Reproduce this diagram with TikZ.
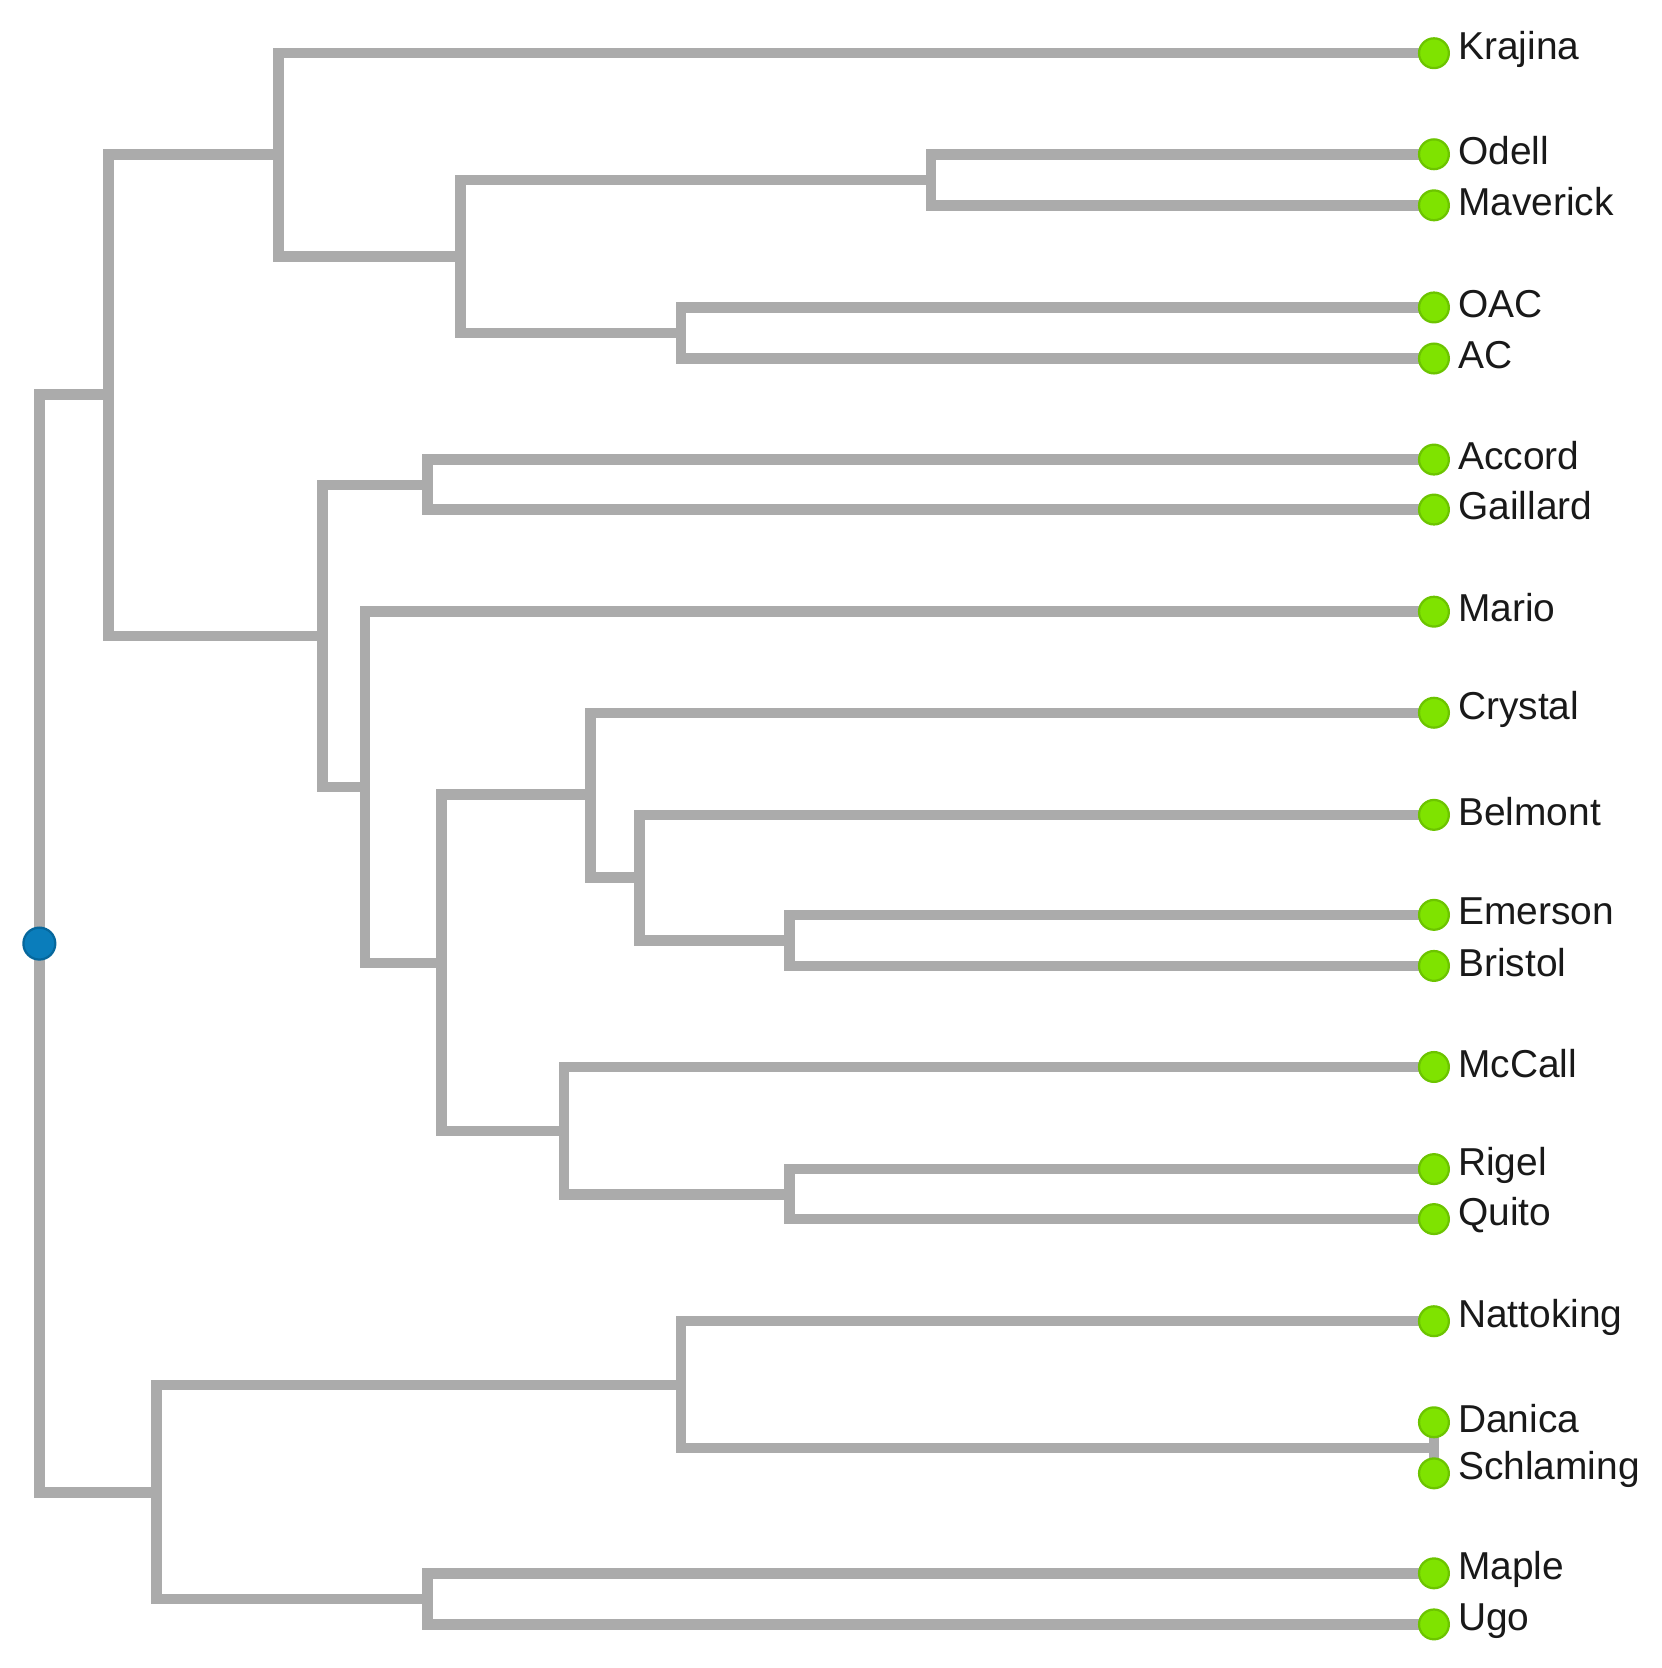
\documentclass[tikz,border=0pt]{standalone}
\usepackage{fontspec}
\setmainfont{Liberation Sans}
\usetikzlibrary{backgrounds}
\definecolor{branchgray}{HTML}{ABABAB}
\definecolor{leafgreen}{HTML}{7FE300}
\definecolor{leafrim}{HTML}{6CC400}
\definecolor{rootblue}{HTML}{0A7DBB}
\definecolor{rootrim}{HTML}{06679C}
\tikzset{
  branch/.style={draw=branchgray, line width=2.8pt},
  leaf/.style={circle, fill=leafgreen, draw=leafrim, line width=0.6pt,
    minimum size=0.28cm, inner sep=0pt},
  rootdot/.style={circle, fill=rootblue, draw=rootrim, line width=0.6pt,
    minimum size=0.3cm, inner sep=0pt},
  every label/.style={font=\fontsize{10.4}{12}\selectfont, inner sep=0pt,
    text=black!90, yshift=1pt}
}
\begin{document}
\begin{tikzpicture}[x=0.01cm, y=-0.01cm]
  \useasboundingbox (0,0) rectangle (1562,1568);

  % leaves
  \foreach \name/\y/\txt in {
      krajina/50/Krajina, odell/145/Odell, maverick/193/Maverick,
      oac/289/OAC, ac/337/AC, accord/432/Accord, gaillard/479/Gaillard,
      mario/575/Mario, crystal/670/Crystal, belmont/766/Belmont,
      emerson/860/Emerson, bristol/908/Bristol, mccall/1003/McCall,
      rigel/1099/Rigel, quito/1146/Quito, nattoking/1242/Nattoking,
      danica/1337/Danica, schlaming/1385/Schlaming, maple/1479/Maple,
      ugo/1527/Ugo}
    \node[leaf, label={[label distance=2pt]right:\txt}] (\name) at (1348,\y) {};

  % root and inner splits
  \node[rootdot] (root) at (37,887) {};
  \coordinate (upper) at (102,371);
  \coordinate (lower) at (147,1403);
  \coordinate (kro)   at (262,145);
  \coordinate (omoa)  at (433,241);
  \coordinate (om)    at (875,169);
  \coordinate (oa)    at (640,313);
  \coordinate (agm)   at (303,598);
  \coordinate (ag)    at (402,456);
  \coordinate (mar)   at (343,740);
  \coordinate (mid)   at (415,905);
  \coordinate (cry)   at (555,747);
  \coordinate (beb)   at (601,825);
  \coordinate (eb)    at (742,884);
  \coordinate (mrq)   at (530,1063);
  \coordinate (rq)    at (742,1123);
  \coordinate (nds)   at (640,1302);
  \coordinate (ds)    at (1348,1361);
  \coordinate (mu)    at (402,1503);

  \begin{scope}[on background layer]
    \foreach \p/\c in {root/upper, root/lower,
        upper/kro, upper/agm, kro/krajina, kro/omoa,
        omoa/om, omoa/oa, om/odell, om/maverick, oa/oac, oa/ac,
        agm/ag, agm/mar, ag/accord, ag/gaillard,
        mar/mario, mar/mid, mid/cry, mid/mrq,
        cry/crystal, cry/beb, beb/belmont, beb/eb, eb/emerson, eb/bristol,
        mrq/mccall, mrq/rq, rq/rigel, rq/quito,
        lower/nds, lower/mu, nds/nattoking, nds/ds,
        ds/danica, ds/schlaming, mu/maple, mu/ugo}
      \draw[branch] (\p.center) |- (\c.center);
  \end{scope}
\end{tikzpicture}
\end{document}
